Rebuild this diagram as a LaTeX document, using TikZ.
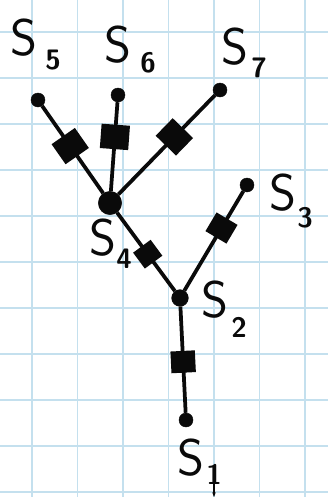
\documentclass[tikz,border=0pt]{standalone}
\usepackage{tikz}
\usetikzlibrary{arrows.meta,calc,positioning}
\definecolor{GridBlue}{HTML}{C4E0EE}
\definecolor{Ink}{HTML}{0A0A0A}

\begin{document}
\begin{tikzpicture}[x=0.03cm,y=-0.03cm,font=\sffamily,
          site/.style={circle,fill=Ink,draw=Ink,inner sep=0pt,minimum size=4.2mm},
          hub/.style={circle,fill=Ink,draw=Ink,inner sep=0pt,minimum size=7mm},
          block/.style={rectangle,fill=Ink,draw=Ink,inner sep=0pt,
                        minimum width=6.2mm,minimum height=7.4mm,sloped},
          bond/.style={draw=Ink,line width=3.2pt},
          letter/.style={text=Ink,inner sep=0pt,font=\sffamily\fontsize{44}{44}\selectfont},
          index/.style={text=Ink,inner sep=0pt,font=\sffamily\bfseries\fontsize{24}{24}\selectfont}]
        \useasboundingbox (0,0) rectangle (328,497);
        \fill[white] (0,0) rectangle (328,497);
        % paper grid
        \foreach \gx in {32,77.5,123,168.5,214,259.5,305}
          \draw[GridBlue,line width=1.3pt] (\gx,0) -- (\gx,497);
        \foreach \gy in {32,78,124,170,216,262,308,354,400,446,492}
          \draw[GridBlue,line width=1.3pt] (0,\gy) -- (328,\gy);
        % sites
        \node[site] (s1) at (186,420) {};
        \node[site,minimum size=5mm] (s2) at (180,298) {};
        \node[site] (s3) at (247,185) {};
        \node[hub] (s4) at (110,203) {};
        \node[site] (s5) at (38,100) {};
        \node[site] (s6) at (118,95) {};
        \node[site] (s7) at (220,90) {};
        % bonds with their blocks
        \draw[bond] (s1) -- node[block,pos=.48,minimum width=5.4mm,minimum height=6.2mm] (b12) {} (s2);
        \draw[bond] (s2) -- node[block,pos=.47,minimum width=4.8mm,minimum height=5.4mm] (b24) {} (s4);
        \draw[bond] (s2) -- node[block,pos=.63,minimum width=5.4mm,minimum height=6.2mm] (b23) {} (s3);
        \foreach \j/\p in {5/.54,6/.61,7/.58}{%
          \draw[bond] (s4) -- node[block,pos=\p] (b4\j) {} (s\j);
        }
        % labels
        \foreach \j/\lx/\ly/\nx/\ny in {5/24/38/53/60,6/118/45/148/63,7/235/47/259/68,
                                        3/283/193/305/218,4/103/238/124/259,2/215/300/239/327}{%
          \node[letter] (l\j) at (\lx,\ly) {S};
          \node[index] (n\j) at (\nx,\ny) {\j};
        }
        \node[letter] (l1) at (191,458) {S};
        \node[index] (n1) at (214,474) {1};
        \coordinate (tip) at (214,497);
        \draw[Ink,line width=1.4pt,-{Stealth[length=4pt]}] (n1.south) -- (tip);
      \end{tikzpicture}
\end{document}
